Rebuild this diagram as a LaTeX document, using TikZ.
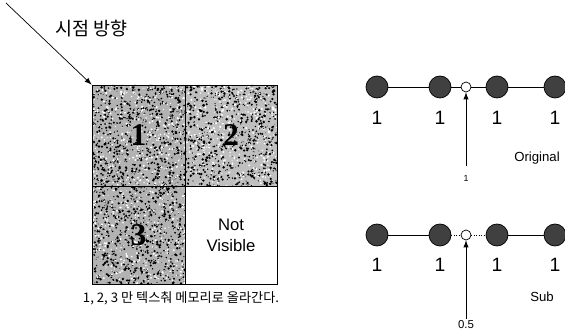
\documentclass[tikz,border=0pt]{standalone}
\usepackage{fontspec}
\setmainfont{Liberation Sans}
\newfontfamily\kor{Noto Sans CJK KR}
\newfontfamily\serifb{Liberation Serif}
\usepackage{tikz}
\usetikzlibrary{positioning}

\begin{document}
\begin{tikzpicture}[x=0.02cm, y=-0.02cm, >=latex, auto]
\useasboundingbox (0,0) rectangle (565,334);
\pgfmathsetseed{4242}

% viewing direction
\node [anchor=west, inner sep=0pt] (title) at (55,29) {\kor\fontsize{10.5pt}{12pt}\selectfont 시점 방향};
\coordinate (eye) at (6,3);

% texture blocks
\node [draw, rectangle, minimum width=93*0.02cm, minimum height=101*0.02cm, inner sep=0pt, fill=gray!60] (cellA) at (138.5,135.5) {};
\node [draw, rectangle, minimum width=92*0.02cm, minimum height=101*0.02cm, inner sep=0pt, fill=gray!50] (cellB) at (231,135.5) {};
\node [draw, rectangle, minimum width=93*0.02cm, minimum height=98*0.02cm, inner sep=0pt, fill=gray!60] (cellC) at (138.5,235) {};
\node [draw, rectangle, minimum width=92*0.02cm, minimum height=98*0.02cm, inner sep=0pt, fill=white] (cellD) at (231,235) {};

\begin{scope}
\clip (92,85) rectangle (277,186) (92,186) rectangle (185,284);
\foreach \i in {1,...,3000}
  \fill ({92+185*rnd},{85+199*rnd}) circle [radius={0.2pt+0.6pt*rnd}];
\foreach \i in {1,...,1500}
  \fill[white] ({92+185*rnd},{85+199*rnd}) circle [radius={0.2pt+0.5pt*rnd}];
\end{scope}
\draw (92,85) rectangle (277,284);
\draw (cellA.north east) -- (cellC.south east);
\draw (cellA.south west) -- (cellB.south east);

\node at (cellA) {\serifb\bfseries\fontsize{18pt}{18pt}\selectfont 1};
\node at (cellB) {\serifb\bfseries\fontsize{18pt}{18pt}\selectfont 2};
\node at (cellC) {\serifb\bfseries\fontsize{18pt}{18pt}\selectfont 3};
\node [align=center, font=\fontsize{9.5pt}{12pt}\selectfont] at (cellD) {Not\\Visible};

\node (caption) at (181,298) {\kor\fontsize{7.5pt}{8pt}\selectfont 1, 2, 3 만 텍스춰 메모리로 올라간다.};

\draw[->] (eye) -- (cellA.north west);

% original sampling
\node [draw, circle, fill=black!75, minimum size=22*0.02cm, inner sep=0pt] (o1) at (377,87) {};
\node [draw, circle, fill=black!75, minimum size=22*0.02cm, inner sep=0pt] (o2) at (440,87) {};
\node [draw, circle, fill=black!75, minimum size=22*0.02cm, inner sep=0pt] (o3) at (497,87) {};
\node [draw, circle, fill=black!75, minimum size=22*0.02cm, inner sep=0pt] (o4) at (555,87) {};
\node [draw, circle, fill=white, minimum size=10*0.02cm, inner sep=0pt] (op) at (466,87) {};

\draw (o1) -- (o2);
\draw (o2) -- (op);
\draw (op) -- (o3);
\draw (o3) -- (o4);

\node [font=\fontsize{11pt}{12pt}\selectfont] (ol1) at (377,118) {1};
\node [font=\fontsize{11pt}{12pt}\selectfont] (ol2) at (440,118) {1};
\node [font=\fontsize{11pt}{12pt}\selectfont] (ol3) at (497,118) {1};
\node [font=\fontsize{11pt}{12pt}\selectfont] (ol4) at (555,118) {1};

\node [font=\fontsize{5pt}{6pt}\selectfont, inner sep=1pt] (ow) at (466,178) {1};
\coordinate (owtop) at (466,166);
\draw[->] (owtop) -- (op.south);
\node [font=\fontsize{7.5pt}{9pt}\selectfont] (orig) at (537,158) {Original};

% sub sampling
\node [draw, circle, fill=black!75, minimum size=22*0.02cm, inner sep=0pt] (s1) at (377,235) {};
\node [draw, circle, fill=black!75, minimum size=22*0.02cm, inner sep=0pt] (s2) at (440,235) {};
\node [draw, circle, fill=black!75, minimum size=22*0.02cm, inner sep=0pt] (s3) at (497,235) {};
\node [draw, circle, fill=black!75, minimum size=22*0.02cm, inner sep=0pt] (s4) at (555,235) {};
\node [draw, circle, fill=white, minimum size=10*0.02cm, inner sep=0pt] (sp) at (466,235) {};

\draw (s1) -- (s2);
\draw[densely dotted] (s2) -- (sp);
\draw[densely dotted] (sp) -- (s3);
\draw (s3) -- (s4);

\node [font=\fontsize{11pt}{12pt}\selectfont] (sl1) at (377,265) {1};
\node [font=\fontsize{11pt}{12pt}\selectfont] (sl2) at (440,265) {1};
\node [font=\fontsize{11pt}{12pt}\selectfont] (sl3) at (497,265) {1};
\node [font=\fontsize{11pt}{12pt}\selectfont] (sl4) at (555,265) {1};

\node [font=\fontsize{6.5pt}{8pt}\selectfont, inner sep=1pt] (sw) at (466,325) {0.5};
\draw[->] (sw.north) -- (sp.south);
\node [font=\fontsize{7.5pt}{9pt}\selectfont] (sub) at (542,297) {Sub};

\end{tikzpicture}
\end{document}
